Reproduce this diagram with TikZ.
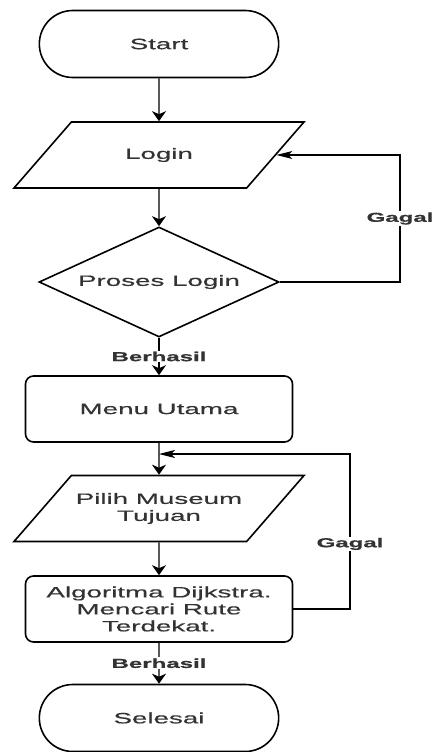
\documentclass[tikz,border=0pt]{standalone}
\usepackage{fontspec}
\setmainfont[FakeStretch=1.85,FakeBold=0.5]{Liberation Sans}
\usetikzlibrary{shapes.geometric,shapes.misc,arrows.meta}

\begin{document}
\begin{tikzpicture}[x=1pt,y=-1pt,
    every node/.style={text=black!80, font=\fontsize{15}{17}\selectfont},
    term/.style={rounded rectangle, draw, line width=1.6pt, minimum width=246pt, minimum height=67pt},
    io/.style={trapezium, trapezium left angle=49, trapezium right angle=131, trapezium stretches body=true,
        draw, line width=1.6pt, minimum width=290pt, minimum height=66pt, inner xsep=0pt, align=center},
    proc/.style={rectangle, rounded corners=8pt, draw, line width=1.6pt, minimum width=267pt,
        minimum height=66pt, inner sep=0pt, align=center},
    dec/.style={diamond, aspect=2.18, draw, line width=1.6pt, minimum width=240pt, minimum height=110pt, inner sep=0pt},
    flow/.style={line width=1.4pt, -{Stealth[length=10pt,width=14pt,inset=3pt]}},
    back/.style={line width=1.2pt, -{Stealth[length=16pt,width=8pt,inset=4pt]}},
    lbl/.style={fill=white, inner sep=1pt, font=\fontsize{13}{15}\selectfont\bfseries}]
    \useasboundingbox (0,0) rectangle (433,752);
    % langkah utama
    \node[term] (start) at (159,44) {Start};
    \node[io, inner ysep=26pt] (login) at (159,155) {Login};
    \node[dec] (cek) at (159,282) {Proses Login};
    \node[proc] (menu) at (159,409) {Menu Utama};
    \node[io, inner ysep=17.5pt] (pilih) at (159,508.5) {Pilih Museum\\Tujuan};
    \node[proc] (dijkstra) at (159,609) {Algoritma Dijkstra.\\Mencari Rute\\Terdekat.};
    \node[term] (selesai) at (159,718) {Selesai};
    % titik belok
    \coordinate (gagalA) at (400,282);
    \coordinate (gagalB) at (350,609);
    \coordinate (balik) at (159,454);
    \draw[flow] (start) -- (login);
    \draw[flow] (login) -- (cek);
    \draw[flow] (cek) -- node[lbl]{Berhasil} (menu);
    \draw[flow] (menu) -- (pilih);
    \draw[flow] (pilih) -- (dijkstra);
    \draw[flow] (dijkstra) -- node[lbl]{Berhasil} (selesai);
    \draw[back] (cek.east) -- (gagalA) |- node[lbl,pos=0.25]{Gagal} (login.east);
    \draw[back] (dijkstra.east) -- (gagalB) |- node[lbl,pos=0.21]{Gagal} (balik);
\end{tikzpicture}
\end{document}
